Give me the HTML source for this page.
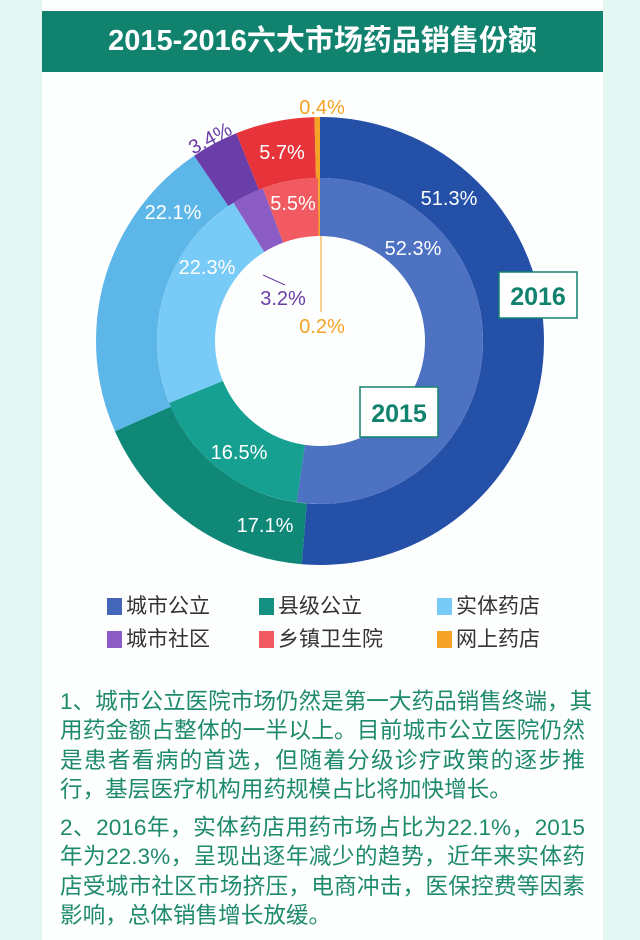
<!DOCTYPE html>
<html><head><meta charset="utf-8"><style>
body{margin:0;width:640px;height:940px;background:#e4f6f1;font-family:"Liberation Sans","Noto Sans CJK SC",sans-serif;overflow:hidden;position:relative}
.panel{position:absolute;left:42px;top:0;width:561px;height:940px;background:#fdfefe}
.title{position:absolute;left:42px;top:11px;width:561px;height:61px;background:#11826e;color:#fff;font-weight:bold;font-size:29px;line-height:61px;text-align:center}
svg{position:absolute;left:0;top:0}
.lg{position:absolute;font-size:21px;color:#333;line-height:24px}
.lg i{display:inline-block;width:15px;height:17px;margin-right:4px;vertical-align:-2px}
.txt{position:absolute;left:60px;width:525px;color:#1e8a6c;font-size:22.6px;line-height:29.3px}
.txt div{text-align:justify;text-align-last:justify;white-space:nowrap}
.txt div.l{text-align-last:left}
</style></head><body>
<div class="panel"></div>
<div class="title">2015-2016六大市场药品销售份额</div>
<svg width="640" height="940" viewBox="0 0 640 940">
<g transform="rotate(-90 320 341)" fill="none">
<circle cx="320" cy="341" r="193.5" stroke-width="61" pathLength="100" stroke="#2550a8" stroke-dasharray="51.3 100" stroke-dashoffset="0"/>
<circle cx="320" cy="341" r="193.5" stroke-width="61" pathLength="100" stroke="#0f8878" stroke-dasharray="17.1 100" stroke-dashoffset="-51.3"/>
<circle cx="320" cy="341" r="193.5" stroke-width="61" pathLength="100" stroke="#5cb6e8" stroke-dasharray="22.1 100" stroke-dashoffset="-68.4"/>
<circle cx="320" cy="341" r="193.5" stroke-width="61" pathLength="100" stroke="#6a3ea8" stroke-dasharray="3.4 100" stroke-dashoffset="-90.5"/>
<circle cx="320" cy="341" r="193.5" stroke-width="61" pathLength="100" stroke="#e6343a" stroke-dasharray="5.7 100" stroke-dashoffset="-93.9"/>
<circle cx="320" cy="341" r="193.5" stroke-width="61" pathLength="100" stroke="#f4a326" stroke-dasharray="0.4 100" stroke-dashoffset="-99.6"/>
<circle cx="320" cy="341" r="134" stroke-width="58" pathLength="100" stroke="#4e72c2" stroke-dasharray="52.3 100" stroke-dashoffset="0"/>
<circle cx="320" cy="341" r="134" stroke-width="58" pathLength="100" stroke="#16a092" stroke-dasharray="16.5 100" stroke-dashoffset="-52.3"/>
<circle cx="320" cy="341" r="134" stroke-width="58" pathLength="100" stroke="#78cbf6" stroke-dasharray="22.3 100" stroke-dashoffset="-68.8"/>
<circle cx="320" cy="341" r="134" stroke-width="58" pathLength="100" stroke="#8a5cc4" stroke-dasharray="3.2 100" stroke-dashoffset="-91.1"/>
<circle cx="320" cy="341" r="134" stroke-width="58" pathLength="100" stroke="#f05a60" stroke-dasharray="5.5 100" stroke-dashoffset="-94.3"/>
<circle cx="320" cy="341" r="134" stroke-width="58" pathLength="100" stroke="#f4a326" stroke-dasharray="0.2 100" stroke-dashoffset="-99.8"/>
</g>
<line x1="263" y1="275" x2="285" y2="285" stroke="#6a3ea8" stroke-width="1"/>
<line x1="321" y1="236" x2="321" y2="312" stroke="#f4a326" stroke-width="1"/>
<g font-family="Liberation Sans,sans-serif" font-size="20" text-anchor="middle" fill="#fff">
<text x="449" y="205">51.3%</text>
<text x="413" y="255">52.3%</text>
<text x="173" y="219">22.1%</text>
<text x="207" y="274">22.3%</text>
<text x="282" y="159">5.7%</text>
<text x="293" y="210">5.5%</text>
<text x="239" y="459">16.5%</text>
<text x="265" y="532">17.1%</text>
<text x="322" y="114" fill="#f4a326">0.4%</text>
<text x="283" y="305" fill="#6a3ea8">3.2%</text>
<text x="322" y="333" fill="#f4a326">0.2%</text>
<text x="210" y="145" fill="#6a3ea8" transform="rotate(-28 210 138)">3.4%</text>
</g>
<rect x="499" y="272" width="78" height="46" fill="#fff" stroke="#11826e" stroke-width="1.5"/>
<text x="538" y="305" font-family="Liberation Sans,sans-serif" font-size="25" font-weight="bold" fill="#11826e" text-anchor="middle">2016</text>
<rect x="360" y="387" width="78" height="50" fill="#fff" stroke="#11826e" stroke-width="1.5"/>
<text x="399" y="422" font-family="Liberation Sans,sans-serif" font-size="25" font-weight="bold" fill="#11826e" text-anchor="middle">2015</text>
</svg>
<div class="lg" style="left:107px;top:595px"><i style="background:#4466b8"></i>城市公立</div>
<div class="lg" style="left:259px;top:595px"><i style="background:#13907f"></i>县级公立</div>
<div class="lg" style="left:437px;top:595px"><i style="background:#78cbf6"></i>实体药店</div>
<div class="lg" style="left:107px;top:628px"><i style="background:#8a5cc4"></i>城市社区</div>
<div class="lg" style="left:259px;top:628px"><i style="background:#f05a60"></i>乡镇卫生院</div>
<div class="lg" style="left:437px;top:628px"><i style="background:#f4a326"></i>网上药店</div>
<div class="txt" style="top:687px">
<div>1、城市公立医院市场仍然是第一大药品销售终端，其</div>
<div>用药金额占整体的一半以上。目前城市公立医院仍然</div>
<div>是患者看病的首选，但随着分级诊疗政策的逐步推</div>
<div class="l">行，基层医疗机构用药规模占比将加快增长。</div>
</div>
<div class="txt" style="top:813px">
<div>2、2016年，实体药店用药市场占比为22.1%，2015</div>
<div>年为22.3%，呈现出逐年减少的趋势，近年来实体药</div>
<div>店受城市社区市场挤压，电商冲击，医保控费等因素</div>
<div class="l">影响，总体销售增长放缓。</div>
</div>
</body></html>
